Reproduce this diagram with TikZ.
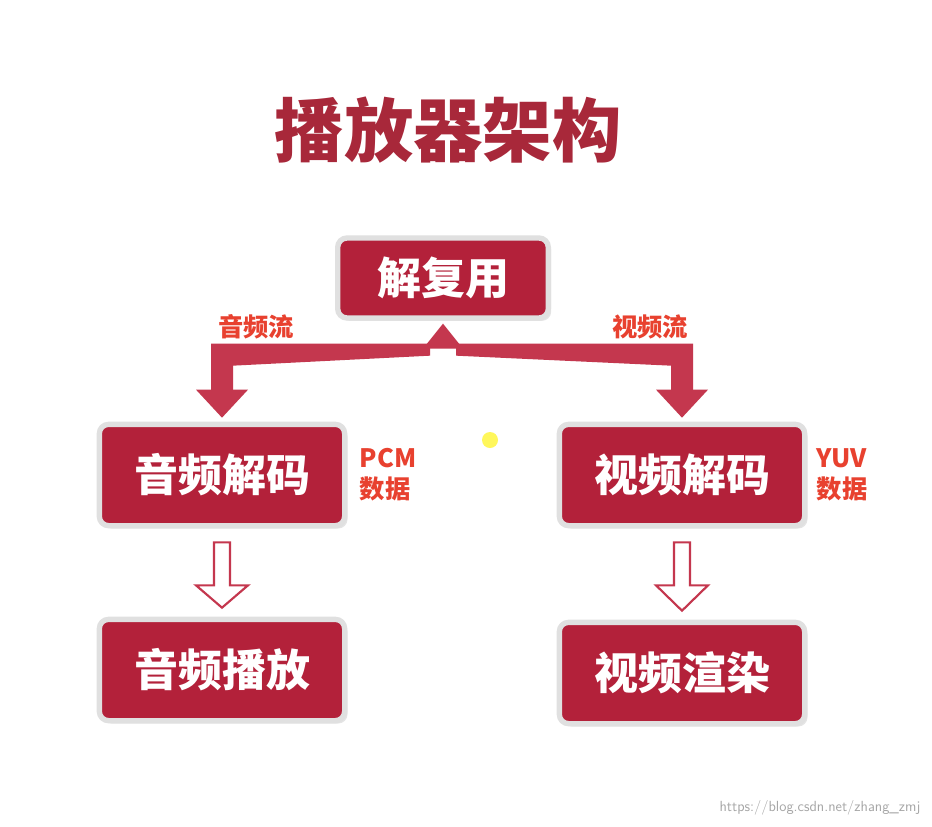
\documentclass[tikz,border=0pt]{standalone}
\usepackage{fontspec}
\newfontfamily\cjk{Noto Sans CJK SC}
\usetikzlibrary{calc}
\definecolor{boxred}{HTML}{B3213A}
\definecolor{bandred}{HTML}{C4374E}
\definecolor{lblred}{HTML}{E8412F}
\definecolor{titred}{HTML}{A8283A}
\tikzset{
  box/.style={draw=white!88!black, line width=4pt, fill=boxred, rounded corners=7pt,
    minimum width=184pt, minimum height=76pt, text=white, font=\cjk\bfseries\fontsize{33}{36}\selectfont, drop shadow={opacity=0.2}},
  lbl/.style={text=lblred, font=\cjk\bfseries\fontsize{19}{23}\selectfont, align=left},
  hollow/.style={draw=bandred, line width=1.6pt, fill=white, line join=miter}
}
\usetikzlibrary{shadows}
\begin{document}
\begin{tikzpicture}[x=0.75pt,y=-0.75pt]
\useasboundingbox (0,0) rectangle (932,826);
\fill[white] (0,0) rectangle (932,826);
\node[text=titred, font=\cjk\bfseries\fontsize{52}{56}\selectfont] (title) at (448,130) {播放器架构};
\node[box, minimum width=158pt, minimum height=60pt] (dm) at (443,278) {解复用};
\node[box] (ad) at (222,475) {音频解码};
\node[box] (vd) at (682,475) {视频解码};
\node[box] (ap) at (222,670) {音频播放};
\node[box] (vr) at (682,673) {视频渲染};
% band
\fill[bandred] ($(ad.north)+(-11,-25)$) -- ($(ad.north)+(-11,-78)$) -- ($(vd.north)+(11,-78)$) -- ($(vd.north)+(11,-25)$) -- ($(vd.north)+(-11,-25)$) -- ($(vd.north)+(-11,-56)$) -- ($(dm.south)+(13,35)$) -- ($(dm.south)+(13,25)$) -- ($(dm.south)+(-13,25)$) -- ($(dm.south)+(-13,35)$) -- ($(ad.north)+(11,-56)$) -- ($(ad.north)+(11,-25)$) -- cycle;
\fill[bandred] ($(ad.north)+(-26,-32)$) -- ($(ad.north)+(26,-32)$) -- ($(ad.north)+(0,-4)$) -- cycle;
\fill[bandred] ($(vd.north)+(-26,-32)$) -- ($(vd.north)+(26,-32)$) -- ($(vd.north)+(0,-4)$) -- cycle;
\fill[bandred] ($(dm.south)+(-20,28)$) -- ($(dm.south)+(20,28)$) -- ($(dm.south)+(0,3)$) -- cycle;
% hollow arrows
\foreach \s/\t in {ad/ap, vd/vr}{
  \draw[hollow] ($(\s.south)+(-8,14)$) -- ($(\s.south)+(-8,57)$) -- ($(\s.south)+(-26,57)$) -- ($(\t.north)+(0,-9)$)
     -- ($(\s.south)+(26,57)$) -- ($(\s.south)+(8,57)$) -- ($(\s.south)+(8,14)$) -- cycle;
}
\node[lbl] (l1) at (256,327) {音频流};
\node[lbl] (l2) at (650,327) {视频流};
\node[lbl] (l3) at (388,475) {PCM\\数据};
\node[lbl] (l4) at (842,475) {YUV\\数据};
\fill[yellow!80!white, opacity=0.8] (490,440) circle (8);
\node[text=black!35, font=\sffamily\fontsize{11}{12}\selectfont, anchor=east] (wm) at (925,808) {https://blog.csdn.net/zhang\_zmj};
\end{tikzpicture}
\end{document}
